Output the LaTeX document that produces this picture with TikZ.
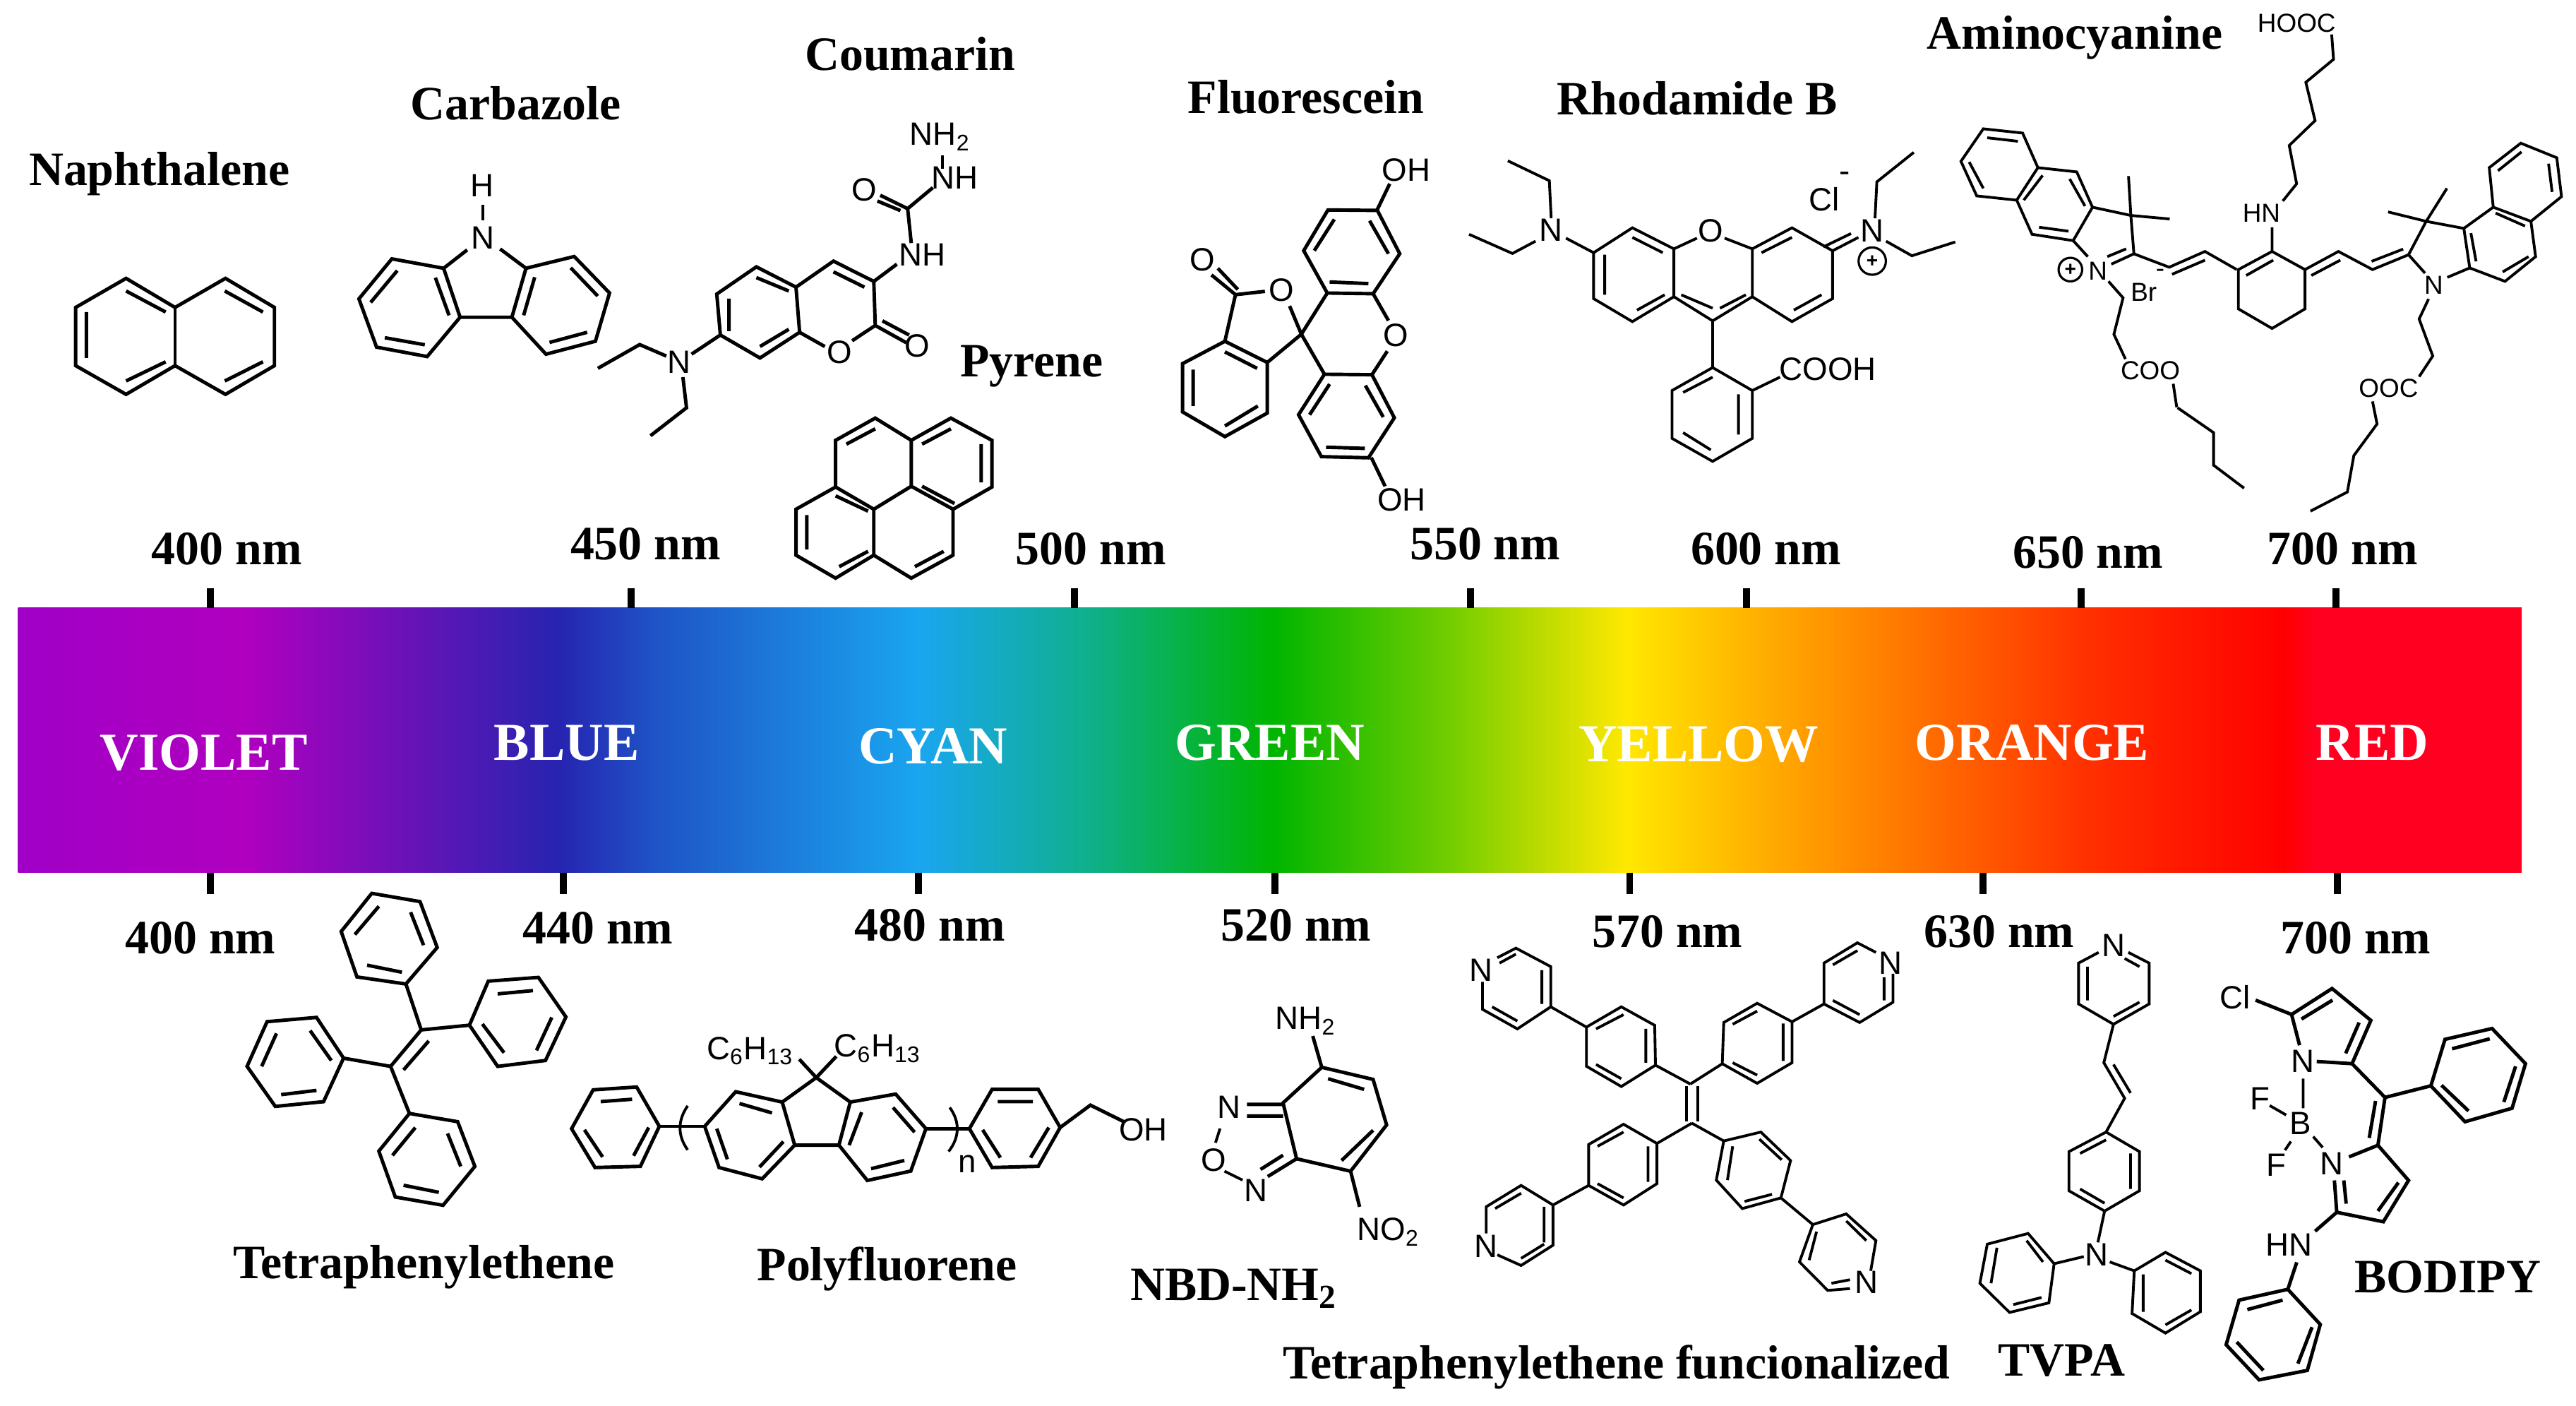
\documentclass[tikz,border=0pt]{standalone}
\usepackage{fontspec}
\setmainfont{Liberation Serif}
\newfontfamily\chemfont{Liberation Sans}
\pgfdeclarehorizontalshading{spectrum}{100bp}{
  rgb(0bp)=(.63,0,.78);
  rgb(25bp)=(.63,0,.78);
  rgb(29.56bp)=(.69,0,.75);
  rgb(35.79bp)=(.15,.14,.69);
  rgb(37.76bp)=(.12,.33,.78);
  rgb(43.01bp)=(.1,.65,.94);
  rgb(46.29bp)=(.06,.69,.56);
  rgb(50.07bp)=(0,.71,0);
  rgb(53.51bp)=(.44,.8,0);
  rgb(57.12bp)=(1,.91,0);
  rgb(60.24bp)=(1,.65,0);
  rgb(66.31bp)=(1,.19,0);
  rgb(70.24bp)=(1,0,0);
  rgb(70.9bp)=(1,0,.13);
  rgb(75bp)=(1,0,.13);
  rgb(100bp)=(1,0,.13)}
\tikzset{
  bond/.style={line width=1.4pt},
  thinbond/.style={line width=1.1pt},
  tickmark/.style={line width=2.8pt},
  title/.style={font=\fontsize{19.3}{23}\selectfont\bfseries, inner sep=0pt},
  band/.style={font=\fontsize{21.5}{25}\selectfont\bfseries, text=white, inner sep=0pt},
  atom/.style={font=\fontsize{13}{15}\selectfont\chemfont, inner sep=0pt},
  smallatom/.style={font=\fontsize{10.5}{12}\selectfont\chemfont, inner sep=0pt},
  charge/.style={draw, circle, line width=.9pt, inner sep=0pt, minimum size=9.5pt, font=\fontsize{8}{8}\selectfont\chemfont\bfseries},
  cropA/.style={xscale=.4385, yscale=.2330},
  cropB/.style={shift={(687.6,0)}, xscale=.5616, yscale=.2330},
  cropC/.style={shift={(0,515.7)}, xscale=.5481, yscale=.2165},
  cropD/.style={shift={(859.5,515.7)}, xscale=.4519, yscale=.2165},
  cropE/.style={shift={(141.8,537.2)}, scale=.14325},
  cropF/.style={shift={(709.1,128.9)}, scale=.14325},
  cropG/.style={shift={(1181.8,64.5)}, scale=.14325},
  cropH/.style={shift={(1353.7,64.5)}, scale=.14325},
  cropI/.style={shift={(1340.8,593)}, xscale=.14325, yscale=.16446},
  cropJ/.style={shift={(343.8,618.8)}, xscale=.2302, yscale=.14325},
  cropK/.style={shift={(214.9,94.5)}, scale=.14325}
}
\begin{document}
\begin{tikzpicture}[x=.02327cm, y=-.02327cm]
    \useasboundingbox (0,0) rectangle (1568.1,855.2);
    % spectrum bar
    \shade [shading=spectrum] (11,370) rectangle (1535,531);
    \foreach \x in {128,384,654,895,1063,1267,1422}
        \draw [tickmark] (\x,358) -- (\x,370);
    \foreach \x in {128,343,559,776,992,1207,1423}
        \draw [tickmark] (\x,531) -- (\x,544);
    \node (violet) at (124,458) [band] {VIOLET};
    \node (blue) at (345,452) [band] {BLUE};
    \node (cyan) at (568,454) [band] {CYAN};
    \node (green) at (773,452) [band] {GREEN};
    \node (yellow) at (1034,453) [band] {YELLOW};
    \node (orange) at (1237,452) [band] {ORANGE};
    \node (red) at (1444,452) [band] {RED};
    % wavelengths
    \node (topa) at (138,334) [title] {400 nm};
    \node (topb) at (393,331) [title] {450 nm};
    \node (topc) at (664,334) [title] {500 nm};
    \node (topd) at (904,331) [title] {550 nm};
    \node (tope) at (1075,334) [title] {600 nm};
    \node (topf) at (1271,336) [title] {650 nm};
    \node (topg) at (1426,334) [title] {700 nm};
    \node (lowa) at (122,571) [title] {400 nm};
    \node (lowb) at (364,565) [title] {440 nm};
    \node (lowc) at (566,563) [title] {480 nm};
    \node (lowd) at (789,563) [title] {520 nm};
    \node (lowe) at (1015,567) [title] {570 nm};
    \node (lowf) at (1217,567) [title] {630 nm};
    \node (lowg) at (1434,571) [title] {700 nm};
    % names
    \node (naphthalene) at (97,106) [title] {Naphthalene};
    \node (carbazole) at (314,63) [title] {Carbazole};
    \node (coumarin) at (554,33) [title] {Coumarin};
    \node (pyrene) at (628,223) [title] {Pyrene};
    \node (fluorescein) at (795,59) [title] {Fluorescein};
    \node (rhodamide) at (1033,60) [title] {Rhodamide B};
    \node (aminocyanine) at (1263,23) [title] {Aminocyanine};
    \node (tpe) at (258,771) [title] {Tetraphenylethene};
    \node (polyfluorene) at (540,772) [title] {Polyfluorene};
    \node (nbd) at (751,784) [title] {NBD-NH\textsubscript{2}};
    \node (tpefun) at (984,832) [title] {Tetraphenylethene funcionalized};
    \node (tvpa) at (1255,828) [title] {TVPA};
    \node (bodipy) at (1490,777) [title] {BODIPY};

    % naphthalene, coumarin, pyrene
    \begin{scope}[cropA]
    \draw [bond] (175,727) -- (105,803) -- (105,955) -- (175,1030) -- (243,955) -- (313,1030) -- (381,955) -- (381,803) -- (313,727) -- (243,803) -- cycle;
    \draw [bond] (243,803) -- (243,955);
    \draw [bond] (120,815) -- (120,935) (175,760) -- (230,815) (175,995) -- (230,945) (312,760) -- (365,815) (365,945) -- (312,995);
    % coumarin
    \node (coun) at (943,945) [atom] {N};
    \node (couo) at (1165,920) [atom] {O};
    \node (couoa) at (1273,903) [atom] {O};
    \node (couob) at (1200,495) [atom] {O};
    \node (counh) at (1280,665) [atom] {NH};
    \node (counha) at (1325,465) [atom] {NH};
    \node (counhb) at (1305,358) [atom] {NH\textsubscript{2}};
    \draw [bond] (1050,697) -- (995,768) -- (1000,875) -- (1055,935) -- (1110,868) -- (1105,750) -- cycle;
    \draw [bond] (1105,750) -- (1157,682) -- (1213,735) -- (1215,850) -- (1183,890);
    \draw [bond] (1145,905) -- (1110,868);
    \draw [bond] (1215,850) -- (1258,895) (1225,838) -- (1262,875);
    \draw [bond] (1012,780) -- (1012,865) (1050,725) -- (1095,760) (1055,905) -- (1095,860) (1157,710) -- (1200,750);
    \draw [bond] (1000,875) -- (960,925) (925,930) -- (888,900) -- (830,962) (948,985) -- (953,1065) -- (903,1138);
    \draw [bond] (1213,735) -- (1245,690) (1265,635) -- (1260,545) (1260,545) -- (1222,510) (1250,550) -- (1218,525) (1260,545) -- (1295,490);
    \draw [thinbond] (1308,440) -- (1308,405);
    % pyrene
    \draw [bond] (1215,1092) -- (1265,1150) -- (1320,1092) -- (1377,1150) -- (1377,1272) -- (1323,1330) -- (1323,1450) -- (1265,1510) -- (1213,1450) -- (1160,1510) -- (1105,1450) -- (1105,1330) -- (1160,1272) -- (1160,1150) -- cycle;
    \draw [bond] (1160,1272) -- (1213,1330) -- (1265,1270) -- (1323,1330) (1265,1150) -- (1265,1270) (1213,1330) -- (1213,1450);
    \draw [bond] (1175,1160) -- (1215,1120) (1280,1160) -- (1320,1120) (1362,1160) -- (1362,1260) (1280,1270) -- (1325,1315) (1160,1295) -- (1205,1335);
    \draw [bond] (1120,1345) -- (1120,1435) (1165,1480) -- (1205,1440) (1270,1480) -- (1310,1440);
    \end{scope}

    % carbazole
    \begin{scope}[cropK]
    \node (carbh) at (550,130) [atom] {H};
    \node (carbn) at (552,350) [atom] {N};
    \draw [bond] (165,440) -- (385,480) -- (455,688) -- (315,855) -- (100,815) -- (25,610) -- cycle;
    \draw [bond] (940,430) -- (735,480) -- (675,688) -- (820,845) -- (1030,790) -- (1090,585) -- cycle;
    \draw [bond] (455,688) -- (675,688) (385,480) -- (485,402) (735,480) -- (625,398);
    \draw [bond] (188,490) -- (75,625) (350,520) -- (408,680) (135,775) -- (305,805);
    \draw [bond] (925,478) -- (1040,598) (772,518) -- (725,680) (835,795) -- (995,752);
    \draw [thinbond] (552,210) -- (552,275);
    \end{scope}

    % fluorescein
    \begin{scope}[cropF]
    \node (fluoa) at (980,525) [atom] {O};
    \node (fluob) at (495,332) [atom] {O};
    \node (fluoc) at (160,202) [atom] {O};
    \draw [bond] (693,-8) -- (903,-6) -- (998,178) -- (885,348) -- (690,345) -- (590,165) -- cycle;
    \draw [bond] (635,165) -- (720,32) (870,38) -- (950,178) (700,298) -- (865,305);
    \draw [bond] (678,690) -- (880,692) -- (975,875) -- (865,1045) -- (665,1040) -- (568,862) -- cycle;
    \draw [bond] (615,862) -- (700,732) (852,738) -- (928,872) (685,1000) -- (850,1005);
    \draw [bond] (885,348) -- (950,462) (945,592) -- (880,692) (690,345) -- (580,520) -- (678,690);
    \draw [bond] (530,400) -- (580,520) -- (435,640);
    \draw [bond] (255,550) -- (435,640) -- (435,855) -- (255,955) -- (75,850) -- (75,645) -- cycle;
    \draw [bond] (255,595) -- (392,665) (120,670) -- (120,825) (255,910) -- (395,825);
    \draw [bond] (255,550) -- (300,352) -- (425,338) (300,352) -- (198,268) (310,330) -- (225,240);
    \end{scope}

    % rhodamide
    \begin{scope}[cropB]
    \node (fluoha) at (300,445) [atom] {OH};
    \node (fluohb) at (295,1305) [atom] {OH};
    \draw [bond] (268,550) -- (282,480) (262,1195) -- (277,1270);
    \node (rhoo) at (630,603) [atom] {O};
    \node (rhona) at (457,600) [atom] {N};
    \node (rhonb) at (805,603) [atom] {N};
    \node (rhocl) at (753,520) [atom] {Cl};
    \node (rhominus) at (775,463) [atom] {-};
    \node (rhoplus) at (805,682) [charge, minimum size=11pt] {+};
    \node (rhocooh) at (757,965) [atom] {COOH};
    \draw [thinbond] (503,660) -- (545,595) -- (590,650) -- (590,775) -- (545,840) -- (503,780) -- cycle;
    \draw [thinbond] (590,650) -- (615,622) (645,622) -- (675,650) (675,650) -- (675,775) -- (632,838) -- (590,775);
    \draw [thinbond] (675,650) -- (718,595) -- (762,655) -- (762,780) -- (718,840) -- (675,775);
    \draw [thinbond] (515,665) -- (515,770) (545,620) -- (578,660) (550,810) -- (580,770) (598,770) -- (632,805) (640,805) -- (668,770);
    \draw [thinbond] (685,660) -- (718,620) (750,770) -- (720,810) (762,655) -- (790,620) (752,645) -- (782,610);
    \draw [thinbond] (503,660) -- (473,622) (457,570) -- (455,472) -- (410,420) (440,630) -- (415,662) -- (368,612);
    \draw [thinbond] (808,570) -- (810,475) -- (850,398) (820,630) -- (848,668) -- (895,632);
    \draw [thinbond] (632,838) -- (632,960) -- (675,1020) -- (675,1145) -- (632,1205) -- (588,1145) -- (588,1020) -- (632,960);
    \draw [thinbond] (675,1020) -- (705,985) (600,1025) -- (632,985) (660,1030) -- (660,1135) (600,1130) -- (630,1175);
    % aminocyanine chains
    \node (amihooc) at (1265,60) [smallatom] {HOOC};
    \draw [thinbond] (1250,525) -- (1265,480) -- (1257,380) -- (1285,315) -- (1275,215) -- (1305,155) -- (1303,90);
    \draw [thinbond] (1136,1065) -- (1175,1130) -- (1175,1215) -- (1208,1275);
    \draw [thinbond] (1352,1108) -- (1327,1190) -- (1320,1285) -- (1280,1335);
    \end{scope}

    % aminocyanine, left half
    \begin{scope}[cropG]
    \node (amina) at (665,700) [smallatom] {N};
    \node (amiplus) at (548,695) [charge] {+};
    \node (amibr) at (860,790) [smallatom] {Br};
    \node (amiminus) at (930,710) [smallatom] {-};
    \node (amicoo) at (888,1125) [smallatom] {COO};
    \draw [thinbond] (178,97) -- (345,115) -- (410,262) -- (320,400) -- (150,382) -- (83,235) -- cycle;
    \draw [thinbond] (410,262) -- (575,280) -- (642,430) -- (560,572) -- (385,545) -- (320,400);
    \draw [thinbond] (195,135) -- (325,150) (118,238) -- (178,350) (350,400) -- (430,295) (545,310) -- (610,425) (415,515) -- (540,532);
    \draw [thinbond] (642,430) -- (805,465) -- (818,628) -- (722,672) (785,607) -- (705,640) (560,572) -- (622,640);
    \draw [thinbond] (805,465) -- (795,298) (805,465) -- (970,480);
    \draw [thinbond] (818,628) -- (968,685) -- (1120,618) -- (1255,695) (980,715) -- (1120,655);
    \draw [thinbond] (710,745) -- (772,815) -- (733,970) -- (782,1075) (985,1180) -- (1000,1280);
    \end{scope}

    % aminocyanine, right half
    \begin{scope}[cropH]
    \node (amihn) at (160,455) [smallatom] {HN};
    \node (aminb) at (892,760) [smallatom] {N};
    \node (amiooc) at (700,1198) [smallatom] {OOC};
    \draw [thinbond] (62,695) -- (205,618) -- (345,695) -- (345,862) -- (205,945) -- (62,862) -- cycle;
    \draw [thinbond] (95,720) -- (210,655) (205,618) -- (205,515);
    \draw [thinbond] (345,695) -- (487,618) -- (632,695) -- (785,632) (372,720) -- (495,655) (628,660) -- (762,608);
    \draw [thinbond] (855,710) -- (785,632) -- (860,490) -- (1020,520) -- (1045,688) -- (950,728);
    \draw [thinbond] (860,490) -- (948,350) (860,490) -- (698,450);
    \draw [thinbond] (1020,520) -- (1145,430) -- (1305,490) -- (1325,640) -- (1195,745) -- (1045,688);
    \draw [thinbond] (1050,540) -- (1072,660) (1155,455) -- (1280,510) (1295,640) -- (1185,705);
    \draw [thinbond] (1145,430) -- (1128,262) -- (1262,158) -- (1415,220) -- (1435,385) -- (1305,490);
    \draw [thinbond] (1165,275) -- (1265,195) (1380,245) -- (1395,365);
    \draw [thinbond] (870,820) -- (830,905) -- (888,1062) -- (830,1150) (632,1255) -- (652,1355);
    \end{scope}

    % tetraphenylethene
    \begin{scope}[cropE]
    \draw [bond] (590,45) -- (795,80) -- (868,275) -- (735,430) -- (527,400) -- (460,207) -- cycle;
    \draw [bond] (518,220) -- (620,100) (755,125) -- (810,265) (570,350) -- (718,380);
    \draw [bond] (735,430) -- (800,625) -- (670,780) (832,672) -- (725,795);
    \draw [bond] (1085,418) -- (1298,402) -- (1415,570) -- (1328,755) -- (1125,780) -- (1005,605) -- cycle;
    \draw [bond] (800,625) -- (1005,605) (1125,472) -- (1275,458) (1355,572) -- (1290,712) (1060,600) -- (1152,722);
    \draw [bond] (145,590) -- (355,572) -- (470,745) -- (385,930) -- (180,950) -- (60,780) -- cycle;
    \draw [bond] (470,745) -- (670,780) (185,640) -- (122,780) (328,628) -- (418,755) (205,900) -- (355,882);
    \draw [bond] (670,780) -- (750,980);
    \draw [bond] (750,980) -- (955,1015) -- (1028,1205) -- (893,1370) -- (690,1335) -- (620,1140) -- cycle;
    \draw [bond] (775,1040) -- (678,1158) (912,1065) -- (968,1205) (725,1285) -- (875,1315);
    \end{scope}

    % polyfluorene
    \begin{scope}[cropJ]
    \node (polya) at (490,145) [atom] {C\textsubscript{6}H\textsubscript{13}};
    \node (polyb) at (827,135) [atom] {C\textsubscript{6}H\textsubscript{13}};
    \node (polyn) at (1065,625) [atom] {n};
    \node (polyoh) at (1530,478) [atom] {OH};
    \draw [bond] (75,310) -- (190,298) -- (250,465) -- (200,635) -- (80,640) -- (18,475) -- cycle;
    \draw [bond] (95,360) -- (178,350) (52,480) -- (100,595) (222,470) -- (182,590);
    \draw [bond] (250,465) -- (370,465);
    \draw [thinbond] (325,378) .. controls (298,440) and (298,505) .. (325,565);
    \draw [bond] (452,318) -- (575,362) -- (608,545) -- (522,688) -- (408,640) -- (370,465) -- cycle;
    \draw [bond] (462,368) -- (548,408) (402,475) -- (430,605) (578,530) -- (515,638);
    \draw [bond] (755,362) -- (875,328) -- (955,475) -- (915,655) -- (800,695) -- (725,545) -- cycle;
    \draw [bond] (785,405) -- (752,545) (868,385) -- (925,490) (810,645) -- (898,610);
    \draw [bond] (608,545) -- (725,545) (575,362) -- (665,258) -- (755,362) (665,258) -- (620,180) (665,258) -- (718,168);
    \draw [bond] (955,475) -- (1070,475);
    \draw [thinbond] (1018,385) .. controls (1045,445) and (1045,510) .. (1015,572);
    \draw [bond] (1130,308) -- (1252,308) -- (1310,470) -- (1252,635) -- (1130,640) -- (1070,475) -- cycle;
    \draw [bond] (1145,360) -- (1238,360) (1280,470) -- (1232,598) (1105,480) -- (1152,598);
    \draw [bond] (1310,470) -- (1390,375) -- (1478,445);
    \end{scope}

    % nbd
    \begin{scope}[cropC]
    \node (nbdnh) at (1450,488) [atom] {NH\textsubscript{2}};
    \node (nbdna) at (1365,730) [atom] {N};
    \node (nbdo) at (1348,878) [atom] {O};
    \node (nbdnb) at (1395,965) [atom] {N};
    \node (nbdno) at (1542,1080) [atom] {NO\textsubscript{2}};
    \draw [bond] (1468,618) -- (1525,652) -- (1540,780) -- (1500,910) -- (1440,875) -- (1425,718) -- cycle;
    \draw [bond] (1475,650) -- (1515,680) (1525,795) -- (1490,880) (1468,618) -- (1458,530) (1500,910) -- (1510,1010);
    \draw [bond] (1425,722) -- (1385,722) (1425,755) -- (1385,755) (1440,875) -- (1408,925) (1425,865) -- (1400,905);
    \draw [thinbond] (1355,790) -- (1350,830) (1360,910) -- (1380,935);
    \end{scope}

    % functionalized tetraphenylethene, tvpa
    \begin{scope}[cropD]
    \node (funa) at (93,345) [atom] {N};
    \node (funb) at (645,325) [atom] {N};
    \node (func) at (100,1120) [atom] {N};
    \node (fund) at (612,1222) [atom] {N};
    \draw [thinbond] (370,670) -- (370,770) (385,670) -- (385,770);
    \draw [thinbond] (375,665) -- (328,612) (375,665) -- (418,608) (377,775) -- (330,832) (377,775) -- (420,825);
    \draw [thinbond] (282,448) -- (327,500) -- (328,612) -- (282,672) -- (235,615) -- (235,505) -- cycle;
    \draw [thinbond] (187,448) -- (235,505);
    \draw [thinbond] (115,310) -- (140,283) -- (187,335) -- (187,448) -- (142,510) -- (95,455) -- (95,378);
    \draw [thinbond] (285,470) -- (248,510) (315,510) -- (315,605) (248,610) -- (282,650) (175,345) -- (175,440) (108,448) -- (142,488) (118,325) -- (140,300);
    \draw [thinbond] (465,438) -- (512,490) -- (512,605) -- (465,663) -- (418,608) -- (420,492) -- cycle;
    \draw [thinbond] (512,490) -- (555,440);
    \draw [thinbond] (625,295) -- (600,268) -- (555,325) -- (555,440) -- (603,492) -- (648,435) -- (648,355);
    \draw [thinbond] (465,460) -- (432,497) (500,495) -- (500,600) (432,605) -- (465,640) (567,330) -- (600,290) (567,430) -- (603,470) (636,430) -- (636,365);
    \draw [thinbond] (285,778) -- (330,832) -- (330,945) -- (285,1005) -- (238,950) -- (238,835) -- cycle;
    \draw [thinbond] (238,950) -- (190,1005);
    \draw [thinbond] (115,1145) -- (147,1175) -- (190,1118) -- (190,1005) -- (147,950) -- (100,1010) -- (100,1085);
    \draw [thinbond] (285,800) -- (250,840) (318,840) -- (318,940) (250,945) -- (285,985) (178,1010) -- (178,1110) (147,972) -- (112,1015) (147,1155) -- (178,1115);
    \draw [thinbond] (470,800) -- (510,880) -- (497,985) -- (445,1015) -- (410,935) -- (420,825) -- cycle;
    \draw [thinbond] (497,985) -- (540,1060);
    \draw [thinbond] (540,1060) -- (585,1030) -- (625,1105) -- (618,1190) (590,1240) -- (560,1245) -- (522,1165) -- (540,1060);
    \draw [thinbond] (468,820) -- (498,878) (425,935) -- (432,840) (448,995) -- (485,975) (545,1080) -- (535,1160) (585,1050) -- (612,1105) (565,1225) -- (590,1215);
    % tvpa
    \node (tvpna) at (945,275) [atom] {N};
    \node (tvpnb) at (922,1145) [atom] {N};
    \draw [thinbond] (925,295) -- (898,325) -- (898,440) -- (945,497) -- (993,440) -- (993,325) -- (965,295);
    \draw [thinbond] (910,335) -- (910,430) (945,475) -- (980,435) (980,335) -- (960,312);
    \draw [thinbond] (945,497) -- (932,605) -- (960,705) -- (935,800) (945,610) -- (968,690);
    \draw [thinbond] (935,800) -- (980,855) -- (980,965) -- (933,1022) -- (885,965) -- (885,855) -- cycle;
    \draw [thinbond] (935,822) -- (900,860) (968,860) -- (968,960) (900,960) -- (933,1000);
    \draw [thinbond] (933,1022) -- (924,1110) (905,1150) -- (865,1170) (940,1165) -- (973,1190);
    \draw [thinbond] (830,1085) -- (865,1170) -- (858,1280) -- (805,1307) -- (765,1225) -- (775,1115) -- cycle;
    \draw [thinbond] (828,1105) -- (850,1165) (780,1225) -- (788,1125) (810,1285) -- (848,1265);
    \draw [thinbond] (1015,1138) -- (1062,1190) -- (1062,1305) -- (1015,1365) -- (970,1310) -- (973,1190) -- cycle;
    \draw [thinbond] (1015,1160) -- (1050,1198) (985,1200) -- (985,1305) (1015,1342) -- (1050,1300);
    \end{scope}

    % bodipy
    \begin{scope}[cropI]
    \node (bodcl) at (138,85) [atom] {Cl};
    \node (bodna) at (427,322) [atom] {N};
    \node (bodb) at (415,550) [atom] {B};
    \node (bodfa) at (243,460) [atom] {F};
    \node (bodfb) at (312,705) [atom] {F};
    \node (bodnb) at (548,700) [atom] {N};
    \node (bodhn) at (368,1000) [atom] {HN};
    \draw [bond] (225,95) -- (378,148) -- (550,52) -- (715,170) -- (635,330) -- (485,322) (378,148) -- (412,262);
    \draw [bond] (420,165) -- (552,95) (665,178) -- (608,292);
    \draw [bond] (635,330) -- (775,455) -- (970,412);
    \draw [bond] (970,412) -- (1030,240) -- (1230,200) -- (1372,330) -- (1315,495) -- (1115,545) -- cycle;
    \draw [bond] (1060,275) -- (1220,238) (1330,340) -- (1280,472) (1015,410) -- (1130,505);
    \draw [bond] (775,455) -- (745,632) (735,468) -- (708,605);
    \draw [thinbond] (427,385) -- (427,495) (285,485) -- (355,520) (375,618) -- (350,650) (470,600) -- (510,640);
    \draw [bond] (622,675) -- (745,632) -- (875,762) -- (768,915) -- (570,880) -- (560,762);
    \draw [bond] (832,770) -- (745,875) (600,762) -- (610,848) (570,880) -- (478,950) (400,1065) -- (362,1165);
    \draw [bond] (362,1165) -- (500,1295) -- (445,1465) -- (240,1500) -- (100,1370) -- (155,1205) -- cycle;
    \draw [bond] (190,1240) -- (340,1205) (465,1305) -- (405,1440) (258,1465) -- (145,1360);
    \end{scope}
\end{tikzpicture}
\end{document}
